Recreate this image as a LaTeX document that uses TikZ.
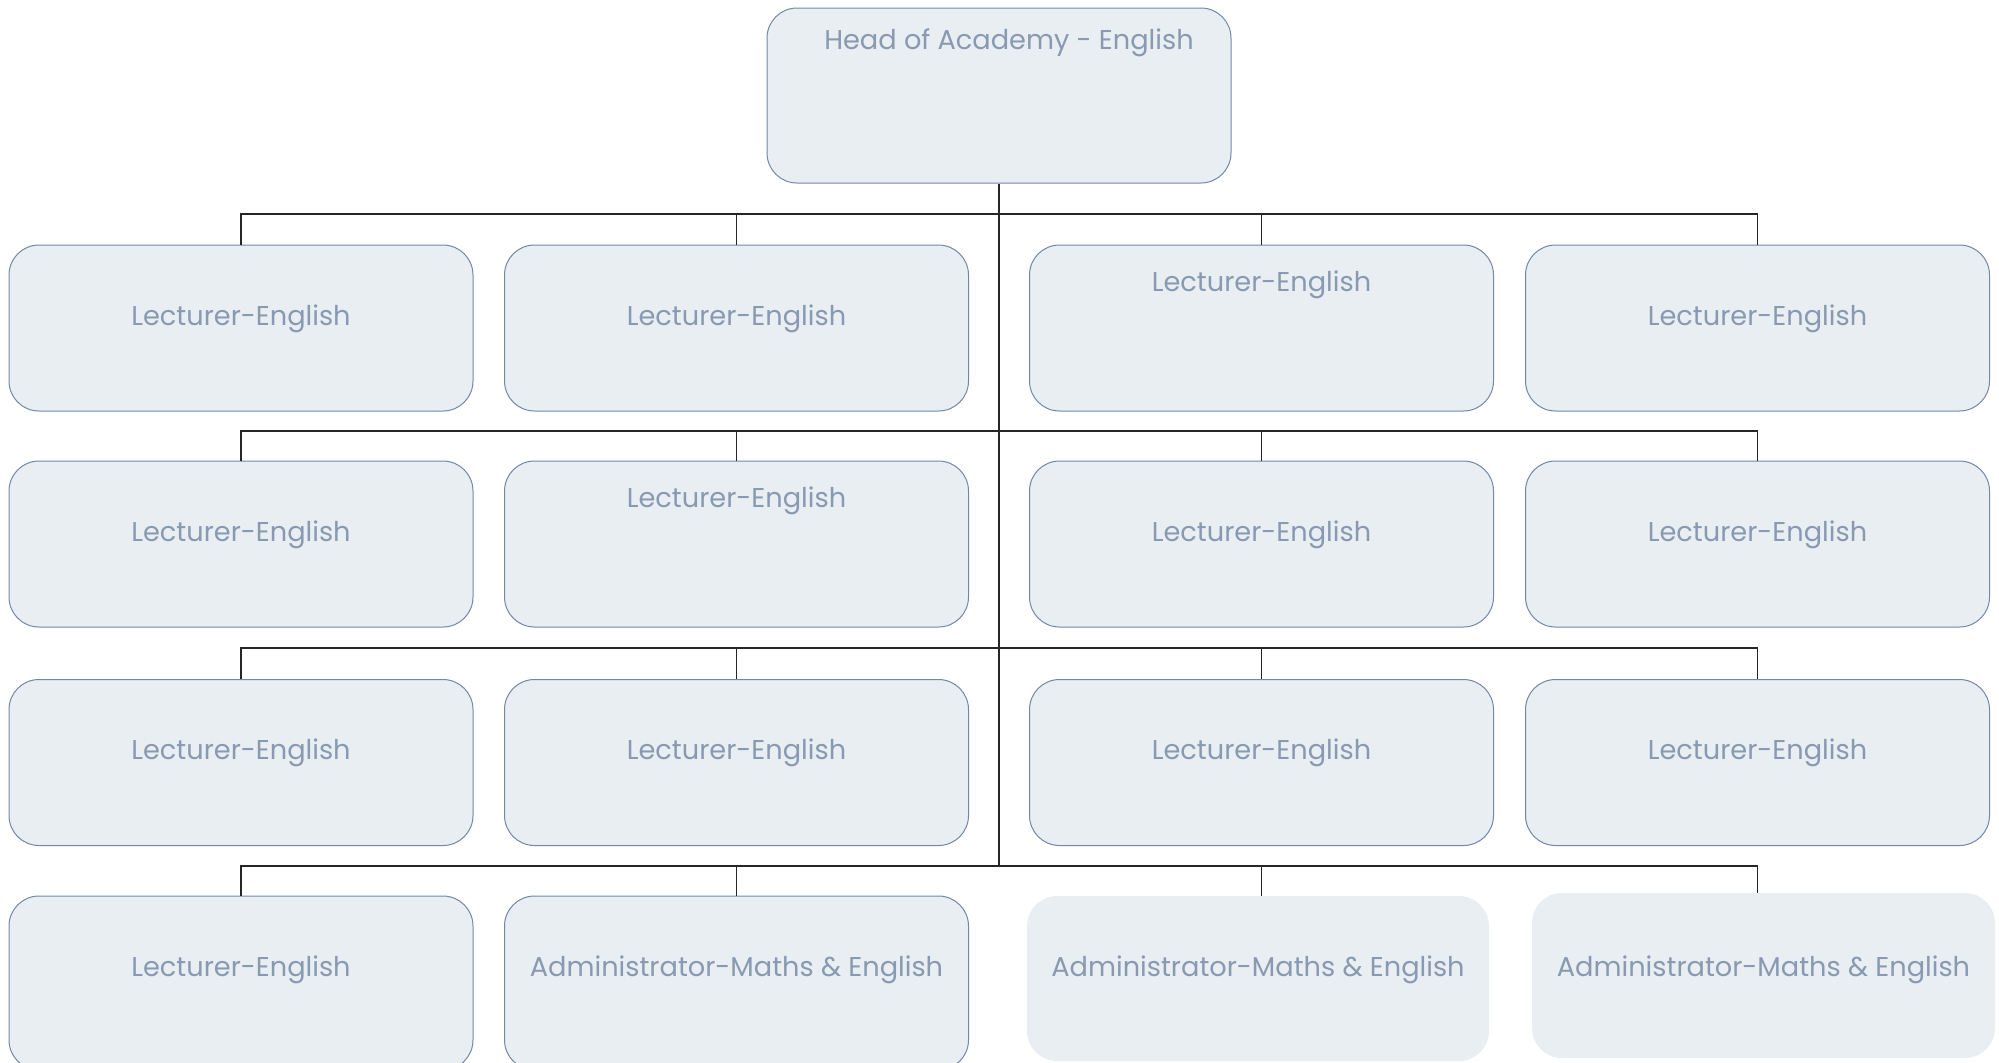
\documentclass[tikz,border=0pt]{standalone}
\usepackage{fontspec}
\setmainfont{Poppins}
\usetikzlibrary{positioning}
\definecolor{boxfill}{RGB}{232,238,241}
\definecolor{boxline}{RGB}{115,135,168}
\definecolor{boxtext}{RGB}{136,153,177}
\tikzset{
  post/.style={draw=boxline,line width=0.5pt,rounded corners=15pt,fill=boxfill,minimum width=232pt,minimum height=83pt,inner sep=0pt,font=\fontsize{13.6}{16}\selectfont,text=boxtext,text height=40pt,text depth=43pt},
  toppost/.style={post,text height=23pt,text depth=60pt},
  bare/.style={post,draw=none},
  link/.style={draw=black!85,line width=0.6pt}
}
\begin{document}
\begin{tikzpicture}[x=0.5pt,y=-0.5pt]
\useasboundingbox (0,0) rectangle (1999,1062);
\node[post,minimum height=87.5pt,text height=20.5pt,text depth=67pt,inner xsep=0pt](head) at (999,95.5){\hspace*{10pt}Head of Academy - English};
% lecturers
\node[post](l11) at (241,328){Lecturer-English};
\node[post](l12) at (736.5,328){Lecturer-English};
\node[toppost](l13) at (1261.5,328){Lecturer-English};
\node[post](l14) at (1757.5,328){Lecturer-English};
\node[post](l21) at (241,544){Lecturer-English};
\node[toppost](l22) at (736.5,544){Lecturer-English};
\node[post](l23) at (1261.5,544){Lecturer-English};
\node[post](l24) at (1757.5,544){Lecturer-English};
\node[post](l31) at (241,762.5){Lecturer-English};
\node[post](l32) at (736.5,762.5){Lecturer-English};
\node[post](l33) at (1261.5,762.5){Lecturer-English};
\node[post](l34) at (1757.5,762.5){Lecturer-English};
\node[post,minimum height=87pt,text depth=47pt](l41) at (241,983){Lecturer-English};
% administrators
\node[post,minimum height=87pt,text depth=47pt](a42) at (736.5,983){Administrator-Maths \& English};
\node[bare,minimum width=231pt,minimum height=82.5pt,text depth=42.5pt](a43) at (1258,978.5){Administrator-Maths \& English};
\node[bare,minimum width=231.5pt,minimum height=82.5pt,text height=41.5pt,text depth=41pt](a44) at (1763.5,975.5){Administrator-Maths \& English};
% buses
\coordinate(bus1) at (999,214);
\coordinate(bus2) at (999,431);
\coordinate(bus3) at (999,648);
\coordinate(bus4) at (999,866);
\draw[link](head.south)--(bus4);
\draw[link](bus1)-|(l11.north);
\draw[link](bus1)-|(l12.north);
\draw[link](bus1)-|(l13.north);
\draw[link](bus1)-|(l14.north);
\draw[link](bus2)-|(l21.north);
\draw[link](bus2)-|(l22.north);
\draw[link](bus2)-|(l23.north);
\draw[link](bus2)-|(l24.north);
\draw[link](bus3)-|(l31.north);
\draw[link](bus3)-|(l32.north);
\draw[link](bus3)-|(l33.north);
\draw[link](bus3)-|(l34.north);
\draw[link](bus4)-|(l41.north);
\draw[link](bus4)-|(a42.north);
\draw[link](bus4)-|(l33.south|-a43.north);
\draw[link](bus4)-|(l34.south|-a44.north);
\end{tikzpicture}
\end{document}
